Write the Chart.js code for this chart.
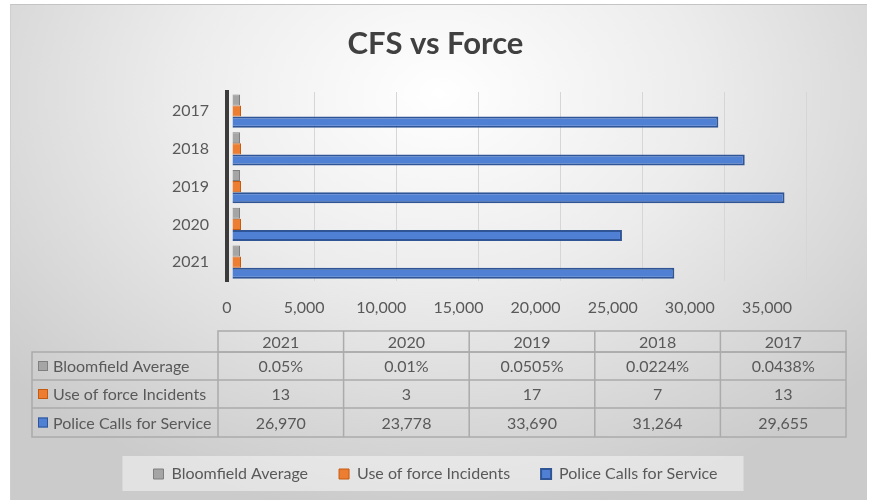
<!DOCTYPE html>
<html>
<head>
<meta charset="utf-8">
<script src="https://cdn.jsdelivr.net/npm/chart.js@4"></script>
<style>
  html, body { margin: 0; padding: 0; background: #ffffff; }
  #fondo {
    position: absolute; left: 10px; top: 4px; width: 856px; height: 496px;
    border-top: 1px solid #c4c4c4; border-left: 1px solid #cfcfcf;
    background: radial-gradient(ellipse 68% 85% at 50% 18%, #ffffff 0%, #ececec 45%, #d2d2d2 88%, #cbcbcb 100%);
  }
  #lienzo { position: absolute; left: 0; top: 0; }
</style>
</head>
<body>
<div id="fondo"></div>
<div id="lienzo"><canvas id="grafica" width="871" height="500"></canvas></div>
<script>
// Datos
const anios = ['2021', '2020', '2019', '2018', '2017'];
const promedioBloomfield = [0.05, 0.01, 0.0505, 0.0224, 0.0438]; // en %
const incidentesFuerza = [13, 3, 17, 7, 13];
const llamadasServicio = [26970, 23778, 33690, 31264, 29655];
const ticksEje = [0, 5000, 10000, 15000, 20000, 25000, 30000, 35000];

const colorTexto = '#595959';
const fuente = 'Lato';

// fondo de la leyenda
const fondoLeyenda = {
  id: 'fondoLeyenda',
  beforeDraw(chart) {
    const cajas = chart.legend.legendHitBoxes;
    if (!cajas || !cajas.length) return;
    const c = chart.ctx;
    const izq = cajas[0].left - 31;
    const ult = cajas[cajas.length - 1];
    const der = ult.left + ult.width + 26;
    const yc = cajas[0].top + cajas[0].height / 2;
    c.save();
    c.fillStyle = 'rgba(245,245,245,0.55)';
    c.fillRect(izq, yc - 18, der - izq, 35);
    c.restore();
  }
};

// tabla de datos debajo del eje
const tablaDatos = {
  id: 'tablaDatos',
  afterDraw(chart) {
    const c = chart.ctx;
    const izq = 32, col0 = 218, der = 846;
    const filas = [331, 352, 380, 408, 437];
    const anchoCol = (der - col0) / anios.length;
    c.save();
    c.strokeStyle = '#ababab';
    c.lineWidth = 1.5;
    c.strokeRect(col0, filas[0], der - col0, filas[1] - filas[0]);
    c.strokeRect(izq, filas[1], der - izq, filas[4] - filas[1]);
    c.beginPath();
    for (let i = 2; i < 4; i++) {
      c.moveTo(izq, filas[i]);
      c.lineTo(der, filas[i]);
    }
    for (let j = 1; j < anios.length; j++) {
      const x = col0 + j * anchoCol;
      c.moveTo(x, filas[0]);
      c.lineTo(x, filas[4]);
    }
    c.moveTo(col0, filas[1]);
    c.lineTo(col0, filas[4]);
    c.stroke();

    c.font = '16px ' + fuente;
    c.textBaseline = 'middle';
    c.fillStyle = colorTexto;
    c.textAlign = 'center';
    anios.forEach((a, j) => c.fillText(a, col0 + (j + 0.5) * anchoCol, (filas[0] + filas[1]) / 2 + 1));

    const textos = [
      promedioBloomfield.map(v => v + '%'),
      incidentesFuerza.map(String),
      llamadasServicio.map(v => v.toLocaleString('en-US'))
    ];
    chart.data.datasets.forEach((ds, i) => {
      const yc = (filas[i + 1] + filas[i + 2]) / 2;
      c.fillStyle = ds.backgroundColor;
      c.fillRect(38, yc - 5, 10, 10);
      c.strokeStyle = ds.borderColor;
      c.lineWidth = 1;
      c.strokeRect(38.5, yc - 4.5, 9, 9);
      c.fillStyle = colorTexto;
      c.textAlign = 'left';
      c.fillText(ds.label, 53, yc + 1);
      c.textAlign = 'center';
      textos[i].forEach((t, j) => c.fillText(t, col0 + (j + 0.5) * anchoCol, yc + 1));
    });
    c.restore();
  }
};

const ctx = document.getElementById('grafica').getContext('2d');
const grafica = new Chart(ctx, {
  type: 'bar',
  data: {
    labels: anios,
    datasets: [
      {
        label: 'Bloomfield Average',
        data: promedioBloomfield,
        backgroundColor: '#a5a5a5',
        borderColor: '#7f7f7f',
        borderWidth: 1,
        minBarLength: 8
      },
      {
        label: 'Use of force Incidents',
        data: incidentesFuerza,
        backgroundColor: '#ed7d31',
        borderColor: '#c55a11',
        borderWidth: 1,
        minBarLength: 9
      },
      {
        label: 'Police Calls for Service',
        data: llamadasServicio,
        backgroundColor: '#4f80d3',
        borderColor: '#2f5597',
        borderWidth: 2
      }
    ]
  },
  options: {
    responsive: false,
    animation: false,
    indexAxis: 'y',
    categoryPercentage: 0.88,
    barPercentage: 1,
    layout: { padding: { left: 0, right: 0, top: 0, bottom: 8 } },
    plugins: {
      title: {
        display: true,
        text: 'CFS vs Force',
        color: '#404040',
        font: { family: fuente, size: 31, weight: 'bold' },
        padding: { top: 25, bottom: 30 }
      },
      legend: {
        position: 'bottom',
        labels: {
          boxWidth: 10,
          boxHeight: 10,
          padding: 31,
          color: colorTexto,
          font: { family: fuente, size: 16 }
        }
      },
      tooltip: { enabled: false }
    },
    scales: {
      y: {
        reverse: true,
        grid: { display: false },
        border: { display: true, color: '#3b3b3b', width: 4 },
        ticks: { color: colorTexto, font: { family: fuente, size: 16 }, padding: 10 },
        afterFit: s => { s.width = 227; }
      },
      // margen derecho del área de trazado
      yr: {
        type: 'linear',
        axis: 'y',
        position: 'right',
        ticks: { display: false },
        grid: { display: false },
        border: { display: false },
        afterFit: s => { s.width = 65; }
      },
      // eje de los datos (plano frontal)
      x: {
        position: 'top',
        min: -305,
        max: 35000,
        ticks: { display: false },
        border: { display: false },
        grid: {
          drawTicks: false,
          color: c => (c.tick && c.tick.value === 0) ? 'rgba(0,0,0,0)' : '#d6d6d6'
        },
        afterBuildTicks: s => { s.ticks = ticksEje.map(v => ({ value: v })); }
      },
      // eje de etiquetas (plano del suelo)
      xl: {
        type: 'linear',
        axis: 'x',
        position: 'bottom',
        min: 0,
        max: 37527,
        grid: { display: false },
        border: { display: false },
        ticks: { color: colorTexto, font: { family: fuente, size: 16 }, padding: 9 },
        afterBuildTicks: s => { s.ticks = ticksEje.map(v => ({ value: v })); },
        afterFit: s => { s.height = 154; }
      }
    }
  },
  plugins: [fondoLeyenda, tablaDatos]
});
</script>
</body>
</html>
